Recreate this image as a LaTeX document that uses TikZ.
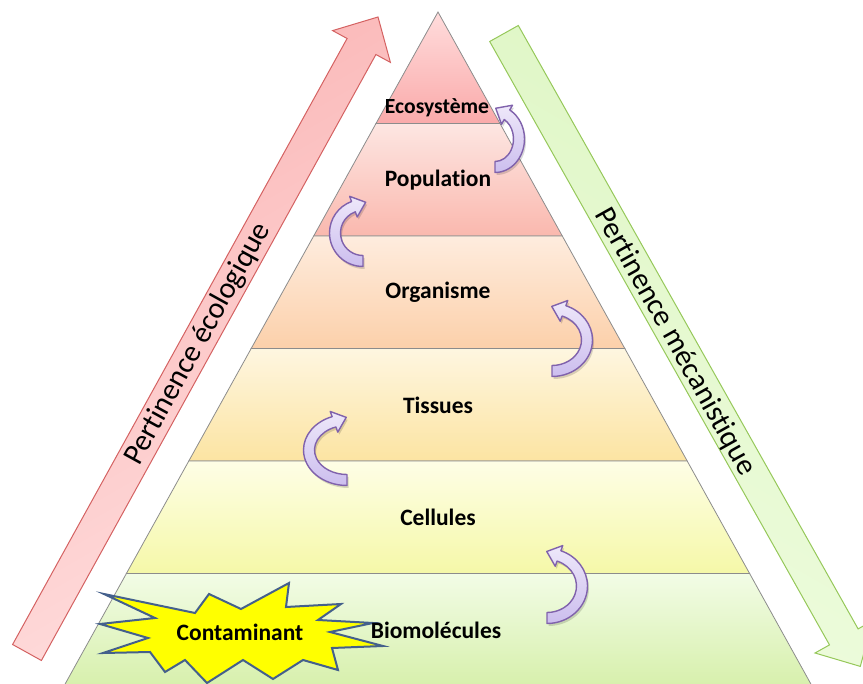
\documentclass[tikz,border=0pt]{standalone}
\usepackage{fontspec}
\setmainfont[Ligatures={NoCommon,NoContextual}]{Carlito}
\usetikzlibrary{calc}
\definecolor{layerline}{RGB}{140,140,140}
\definecolor{l1t}{RGB}{255,220,220}\definecolor{l1b}{RGB}{250,170,170}
\definecolor{l2t}{RGB}{253,230,226}\definecolor{l2b}{RGB}{250,184,174}
\definecolor{l3t}{RGB}{254,236,222}\definecolor{l3b}{RGB}{252,208,170}
\definecolor{l4t}{RGB}{254,246,224}\definecolor{l4b}{RGB}{252,228,162}
\definecolor{l5t}{RGB}{254,254,230}\definecolor{l5b}{RGB}{245,248,168}
\definecolor{l6t}{RGB}{242,252,230}\definecolor{l6b}{RGB}{215,240,172}
\definecolor{redline}{RGB}{212,98,98}
\definecolor{redA}{RGB}{250,182,182}\definecolor{redB}{RGB}{255,222,222}
\definecolor{greenline}{RGB}{150,200,90}
\definecolor{greenA}{RGB}{222,246,196}\definecolor{greenB}{RGB}{238,252,222}
\definecolor{bentline}{RGB}{128,98,172}
\definecolor{bentlight}{RGB}{238,232,250}\definecolor{bentdark}{RGB}{204,190,238}
\definecolor{starline}{RGB}{68,96,140}
\definecolor{staryellow}{RGB}{255,255,0}
\tikzset{
  layer/.style={draw=layerline, line width=0.8pt},
  lbl/.style={font=\bfseries\fontsize{23.5}{26}\selectfont, inner sep=0pt},
  lblsmall/.style={font=\bfseries\fontsize{21.6}{24}\selectfont, inner sep=0pt},
  axislbl/.style={font=\fontsize{30}{34}\selectfont, inner sep=0pt},
  bent/.style={draw=bentline, line width=1.4pt, line join=round, top color=bentlight, bottom color=bentdark},
  bentshadow/.style={fill=black, opacity=0.15},
}
\newcommand{\bentarrow}[7]{%
  \pgfmathsetmacro{\ox}{#3+5.5}\pgfmathsetmacro{\oy}{#4+5.5}%
  \pgfmathsetmacro{\ix}{#3-5.5}\pgfmathsetmacro{\iy}{#4-5.5}%
  \pgfmathsetmacro{\wx}{#3+11}\pgfmathsetmacro{\wy}{#4+11}%
  \pgfmathsetmacro{\vx}{#3-11}\pgfmathsetmacro{\vy}{#4-11}%
  \begin{scope}[shift={(#1,#2)}]
    \coordinate (hb) at (#6:{#3} and {#4});
    \coordinate (ho) at (#6:{\wx} and {\wy});
    \coordinate (hi) at (#6:{\vx} and {\vy});
    \coordinate (tip) at ($(hb)!13pt!#7:(ho)$);
    \begin{scope}[transform canvas={xshift=1.5pt,yshift=-2.5pt}]
      \fill[bentshadow] (#5:{\ox} and {\oy}) arc[start angle=#5, end angle=#6, x radius=\ox, y radius=\oy]
        -- (ho) -- (tip) -- (hi) -- (#6:{\ix} and {\iy})
        arc[start angle=#6, end angle=#5, x radius=\ix, y radius=\iy] -- cycle;
    \end{scope}
    \draw[bent] (#5:{\ox} and {\oy}) arc[start angle=#5, end angle=#6, x radius=\ox, y radius=\oy]
      -- (ho) -- (tip) -- (hi) -- (#6:{\ix} and {\iy})
      arc[start angle=#6, end angle=#5, x radius=\ix, y radius=\iy] -- cycle;
  \end{scope}}
\begin{document}
\begin{tikzpicture}[x=1pt,y=-1pt]
\useasboundingbox (0,0) rectangle (863,684);
\clip (0,0) rectangle (863,684);

% pyramid layers
\draw[layer, top color=l1t, bottom color=l1b] (438,12) -- (500,123.5) -- (376,123.5) -- cycle;
\draw[layer, top color=l2t, bottom color=l2b] (376,123.5) -- (500,123.5) -- (562.3,236) -- (313.7,236) -- cycle;
\draw[layer, top color=l3t, bottom color=l3b] (313.7,236) -- (562.3,236) -- (624.8,348.5) -- (251.2,348.5) -- cycle;
\draw[layer, top color=l4t, bottom color=l4b] (251.2,348.5) -- (624.8,348.5) -- (687.2,461) -- (188.8,461) -- cycle;
\draw[layer, top color=l5t, bottom color=l5b] (188.8,461) -- (687.2,461) -- (749.6,573.5) -- (126.4,573.5) -- cycle;
\draw[layer, top color=l6t, bottom color=l6b] (126.4,573.5) -- (749.6,573.5) -- (812,686) -- (64,686) -- cycle;

% left arrow (ecological relevance)
\draw[draw=redline, line width=1pt, line join=miter, left color=redA, right color=redB, shading angle=30]
  (12.6,644.5) -- (347.1,38.5) -- (332.6,30.6) -- (378,17) -- (390.4,62.4) -- (375.9,54.5) -- (41.4,660.5) -- cycle;
\node[axislbl, rotate=61.1] (eco) at (198,344) {Pertinence écologique};

% right arrow (mechanistic relevance)
\draw[draw=greenline, line width=1pt, line join=miter, left color=greenA, right color=greenB, shading angle=-30]
  (489.7,41.5) -- (518.3,25.5) -- (858.1,628.9) -- (872.6,620.8) -- (860.3,666.4) -- (815,653) -- (829.5,644.9) -- cycle;
\node[axislbl, rotate=-60.8] (meca) at (675,342) {Pertinence mécanistique};

% curved arrows
\bentarrow{495}{139}{24}{28}{90}{-60}{90}
\bentarrow{363}{233}{28}{28}{90}{250}{-90}
\bentarrow{552}{340}{35}{31}{90}{-70}{90}
\bentarrow{347}{450}{38}{30}{90}{250}{-90}
\bentarrow{547}{586}{35}{32}{90}{-70}{90}

% contaminant star
\draw[draw=starline, line width=2pt, line join=miter, fill=staryellow]
  (104,594) -- (195,613) -- (209,594) -- (241,609) -- (289,583) -- (286,607) -- (341,604) -- (318,620)
  -- (373,623) -- (330,632) -- (383,646) -- (332,648) -- (338,670) -- (303,660) -- (273,679) -- (243,660)
  -- (207,683) -- (185,660) -- (165,672) -- (150,652) -- (103,653) -- (148,638) -- (100,624) -- (155,618) -- cycle;
\node[lbl] (cont) at (240,632) {Contaminant};

% layer labels
\node[lblsmall] (ecosys) at (437,108) {Ecosystème};
\node[lbl] (pop) at (438,180) {Population};
\node[lbl] (org) at (438,292) {Organisme};
\node[lbl] (tis) at (438,405) {Tissues};
\node[lbl] (cel) at (438,517) {Cellules};
\node[lbl] (bio) at (436,630) {Biomolécules};
\end{tikzpicture}
\end{document}
